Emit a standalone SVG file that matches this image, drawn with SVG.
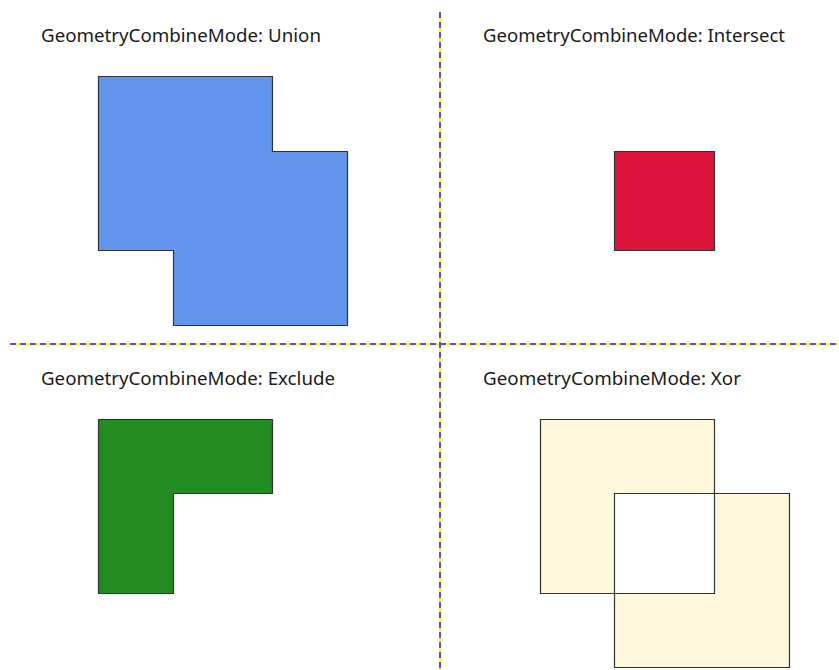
<svg xmlns="http://www.w3.org/2000/svg" width="839" height="670" viewBox="0 0 839 670">
<style>
.lbl{font-family:"Noto Sans","Open Sans",sans-serif;font-size:18px;fill:#1a1a1a}
.shape{stroke:#333;stroke-width:1.2}
.base{stroke:#ffff00;stroke-width:2;fill:none}
.dash{stroke:#3333ff;stroke-width:2;stroke-dasharray:6 4;fill:none;opacity:0.85}
</style>
<rect width="839" height="670" fill="#fff"/>
<g id="connectors">
<line class="base" x1="10" y1="344" x2="839" y2="344"/>
<line class="dash" x1="10" y1="344" x2="839" y2="344"/>
<line class="base" x1="440" y1="12" x2="440" y2="670"/>
<line class="dash" x1="440" y1="12" x2="440" y2="670"/>
</g>
<g id="union">
<text class="lbl" x="41" y="42" textLength="280" lengthAdjust="spacingAndGlyphs">GeometryCombineMode: Union</text>
<path class="shape" fill="#6495ED" d="M98.5,76.5 H272.5 V151.5 H347.5 V325.5 H173.5 V250.5 H98.5 Z"/>
</g>
<g id="intersect">
<text class="lbl" x="483" y="42" textLength="302" lengthAdjust="spacingAndGlyphs">GeometryCombineMode: Intersect</text>
<path class="shape" fill="#DC143C" d="M614.5,151.5 H714.5 V250.5 H614.5 Z"/>
</g>
<g id="exclude">
<text class="lbl" x="41" y="385" textLength="294" lengthAdjust="spacingAndGlyphs">GeometryCombineMode: Exclude</text>
<path class="shape" fill="#228B22" d="M98.5,419.5 H272.5 V493.5 H173.5 V593.5 H98.5 Z"/>
</g>
<g id="xor">
<text class="lbl" x="483" y="385" textLength="258" lengthAdjust="spacingAndGlyphs">GeometryCombineMode: Xor</text>
<path class="shape" fill="#FFF8DC" fill-rule="evenodd" d="M540.5,419.5 H714.5 V593.5 H540.5 Z M614.5,493.5 H789.5 V667.5 H614.5 Z"/>
</g>
</svg>
